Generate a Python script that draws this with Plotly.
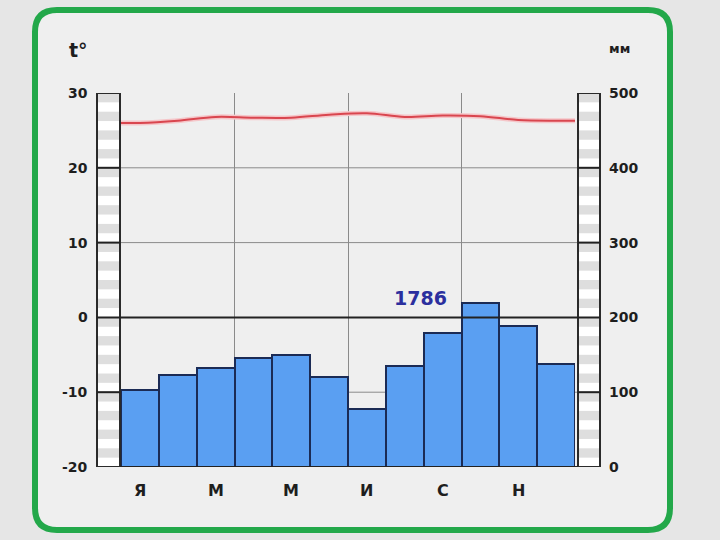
import plotly.graph_objects as go

months = ["Я", "Ф", "М", "А", "М", "И", "И", "А", "С", "О", "Н", "Д"]
precip_mm = [103, 123, 132, 146, 150, 120, 78, 135, 179, 219, 189, 138]
temp_c = [26.0, 26.3, 26.8, 26.7, 26.7, 27.1, 27.3, 26.8, 27.0, 26.9, 26.4, 26.3]
left_ticks = [30, 20, 10, 0, -10, -20]
right_ticks = [500, 400, 300, 200, 100, 0]
total_label = "1786"

W, H = 720, 540
L, R, T, B = 121, 575, 93, 467
PW, PH = R - L, B - T

def px(x):
    return (x - L) / PW

def py(y):
    return (B - y) / PH

xc = [i + 0.5 for i in range(12)]
xt = [0] + xc + [12]
yt = [temp_c[0]] + temp_c + [temp_c[-1]]

fig = go.Figure()

fig.add_trace(go.Bar(
    x=xc, y=precip_mm, width=1, yaxis="y2",
    marker=dict(color="#5a9ff2", line=dict(color="#1b2b55", width=2)),
    showlegend=False, hoverinfo="y"))

fig.add_trace(go.Scatter(
    x=xt, y=yt, mode="lines", line=dict(color="#f5c6c9", width=5, shape="spline"),
    showlegend=False, hoverinfo="skip"))
fig.add_trace(go.Scatter(
    x=xt, y=yt, mode="lines", line=dict(color="#d9464f", width=2, shape="spline"),
    showlegend=False))

shapes = []
x0, x1, y0, y1 = px(35), px(670), py(530), py(10)
rx = 22 / PW
ry = 22 / PH
path = (f"M {x0+rx},{y1} L {x1-rx},{y1} Q {x1},{y1} {x1},{y1-ry} "
        f"L {x1},{y0+ry} Q {x1},{y0} {x1-rx},{y0} L {x0+rx},{y0} "
        f"Q {x0},{y0} {x0},{y0+ry} L {x0},{y1-ry} Q {x0},{y1} {x0+rx},{y1} Z")
shapes.append(dict(type="path", path=path, xref="paper", yref="paper",
                   fillcolor="#efefef", line=dict(color="#23a84a", width=6), layer="below"))

for bx0, bx1 in [(97, 120), (578, 600)]:
    shapes.append(dict(type="rect", xref="paper", yref="y", x0=px(bx0), x1=px(bx1),
                       y0=-20, y1=30, fillcolor="#ffffff", line=dict(width=0), layer="below"))
    v = -20.0
    k = 0
    while v < 30:
        if k % 2 == 1:
            shapes.append(dict(type="rect", xref="paper", yref="y", x0=px(bx0), x1=px(bx1),
                               y0=v, y1=min(v + 1.25, 30), fillcolor="#dedede",
                               line=dict(width=0), layer="below"))
        v += 1.25
        k += 1
    shapes.append(dict(type="rect", xref="paper", yref="y", x0=px(bx0), x1=px(bx1),
                       y0=-20, y1=30, fillcolor="rgba(0,0,0,0)",
                       line=dict(color="#2a2a2a", width=2)))

for v in [20, 10, -10]:
    shapes.append(dict(type="line", xref="paper", yref="y", x0=px(97), x1=px(600),
                       y0=v, y1=v, line=dict(color="#8a8a8a", width=1), layer="below"))
    for bx0, bx1 in [(97, 120), (578, 600)]:
        shapes.append(dict(type="line", xref="paper", yref="y", x0=px(bx0), x1=px(bx1),
                           y0=v, y1=v, line=dict(color="#222", width=2)))
shapes.append(dict(type="line", xref="paper", yref="y", x0=px(97), x1=px(600),
                   y0=0, y1=0, line=dict(color="#222", width=2)))
shapes.append(dict(type="line", xref="paper", yref="y", x0=px(120), x1=px(578),
                   y0=-20, y1=-20, line=dict(color="#222", width=2)))

annotations = []
lab_font = dict(family="DejaVu Sans", size=14, color="#1e1e1e")
for v in left_ticks:
    annotations.append(dict(x=px(90), y=v, xref="paper", yref="y", text=f"<b>{v}</b>",
                            showarrow=False, xanchor="right", yanchor="middle", font=lab_font))
for v in right_ticks:
    annotations.append(dict(x=px(607), y=v * 50 / 500 - 20, xref="paper", yref="y",
                            text=f"<b>{v}</b>", showarrow=False, xanchor="left",
                            yanchor="middle", font=lab_font))
annotations.append(dict(x=px(90), y=py(50), xref="paper", yref="paper", text="<b>t°</b>",
                        showarrow=False, xanchor="right", yanchor="middle",
                        font=dict(family="DejaVu Sans", size=19, color="#1e1e1e")))
annotations.append(dict(x=px(607), y=py(49), xref="paper", yref="paper", text="<b>мм</b>",
                        showarrow=False, xanchor="left", yanchor="middle",
                        font=dict(family="DejaVu Sans", size=13, color="#1e1e1e")))
for i, m in enumerate(months):
    if i % 2 == 0:
        annotations.append(dict(x=xc[i], y=py(490), xref="x", yref="paper", text=f"<b>{m}</b>",
                                showarrow=False, xanchor="center", yanchor="middle",
                                font=dict(family="DejaVu Sans", size=16, color="#1e1e1e")))
annotations.append(dict(x=px(420), y=py(298), xref="paper", yref="paper",
                        text=f"<b>{total_label}</b>", showarrow=False,
                        font=dict(family="DejaVu Sans", size=19, color="#2b2f9e")))

fig.update_layout(
    width=W, height=H,
    margin=dict(l=L, r=W - R, t=T, b=H - B, pad=0),
    paper_bgcolor="#e6e6e6", plot_bgcolor="rgba(0,0,0,0)",
    bargap=0,
    xaxis=dict(range=[0, 12], showticklabels=False, ticks="", showgrid=False, zeroline=False,
               showline=False,
               minor=dict(tickvals=[3, 6, 9], showgrid=True, gridcolor="#8a8a8a", gridwidth=1,
                          ticks="")),
    yaxis=dict(range=[-20, 30], showticklabels=False, showgrid=False, zeroline=False,
               showline=False, ticks=""),
    yaxis2=dict(range=[0, 500], overlaying="y", side="right", showticklabels=False,
                showgrid=False, zeroline=False, showline=False, ticks=""),
    shapes=shapes, annotations=annotations,
)

fig.write_html("out.html", config={"displayModeBar": False},
               post_script="document.body.style.margin='0';document.body.style.background='#e6e6e6';")
